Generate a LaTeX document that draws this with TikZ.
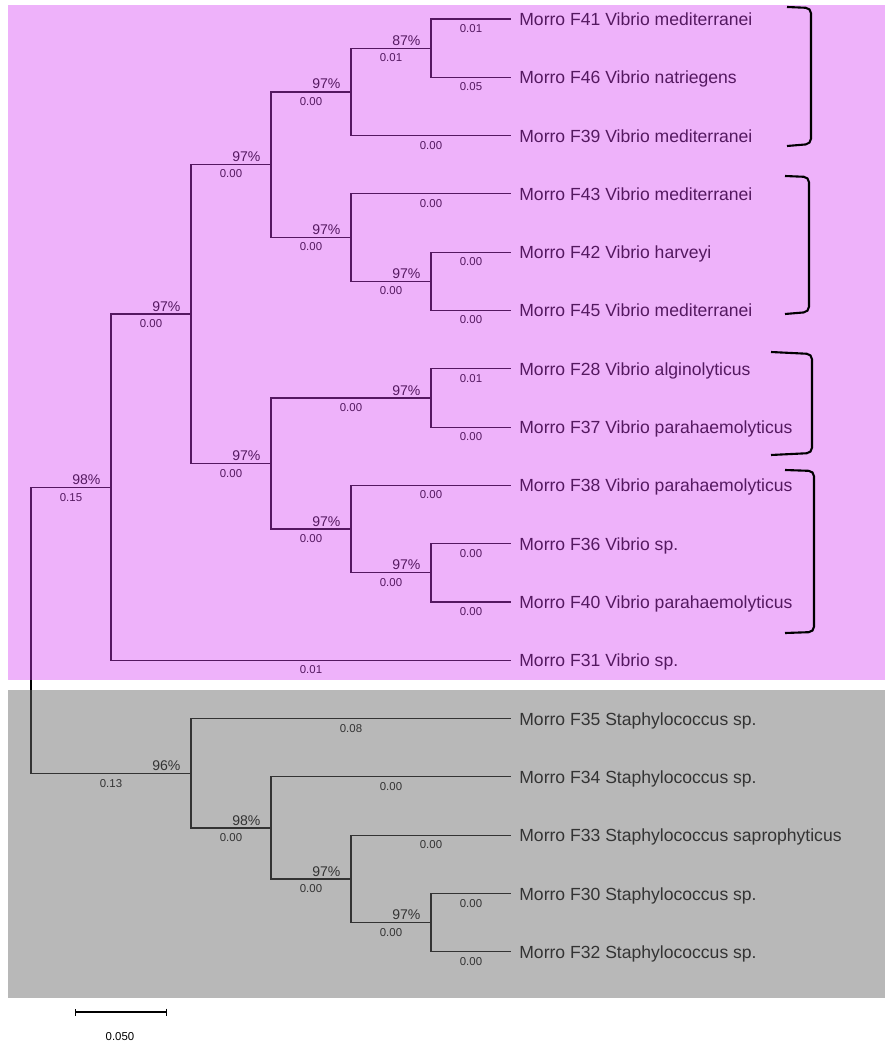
\documentclass[tikz,border=0pt]{standalone}
\usepackage{fontspec}
\setmainfont{Liberation Sans}
\usetikzlibrary{arrows.meta}
\definecolor{vibriopink}{RGB}{212,62,242}
\definecolor{staphgrey}{RGB}{107,107,107}

\begin{document}
\begin{tikzpicture}[x=0.02cm, y=-0.02cm,
  branch/.style={line width=0.6pt},
  leaf/.style={anchor=west, inner xsep=0.16cm, inner ysep=0pt, text height=1.4ex, text depth=0pt, font=\fontsize{10}{12}\selectfont},
  boot/.style={pos=1, anchor=base east, inner sep=0pt, xshift=-0.2cm, yshift=0.06cm, font=\fontsize{8}{9}\selectfont},
  blen/.style={pos=0.75, anchor=north, inner sep=0pt, yshift=-0.1cm, font=\fontsize{6.5}{8}\selectfont},
  brk/.style={line width=1.2pt, rounded corners=3pt}]
\useasboundingbox (0,0) rectangle (885,1043);

\node[leaf] (f41) at (511,19) {Morro F41 Vibrio mediterranei};
\node[leaf] (f46) at (511,77.3) {Morro F46 Vibrio natriegens};
\node[leaf] (f39) at (511,135.6) {Morro F39 Vibrio mediterranei};
\node[leaf] (f43) at (511,193.9) {Morro F43 Vibrio mediterranei};
\node[leaf] (f42) at (511,252.2) {Morro F42 Vibrio harveyi};
\node[leaf] (f45) at (511,310.5) {Morro F45 Vibrio mediterranei};
\node[leaf] (f28) at (511,368.8) {Morro F28 Vibrio alginolyticus};
\node[leaf] (f37) at (511,427.1) {Morro F37 Vibrio parahaemolyticus};
\node[leaf] (f38) at (511,485.4) {Morro F38 Vibrio parahaemolyticus};
\node[leaf] (f36) at (511,543.7) {Morro F36 Vibrio sp.};
\node[leaf] (f40) at (511,602) {Morro F40 Vibrio parahaemolyticus};
\node[leaf] (f31) at (511,660.3) {Morro F31 Vibrio sp.};
\node[leaf] (f35) at (511,718.6) {Morro F35 Staphylococcus sp.};
\node[leaf] (f34) at (511,776.9) {Morro F34 Staphylococcus sp.};
\node[leaf] (f33) at (511,835.2) {Morro F33 Staphylococcus saprophyticus};
\node[leaf] (f30) at (511,893.5) {Morro F30 Staphylococcus sp.};
\node[leaf] (f32) at (511,951.8) {Morro F32 Staphylococcus sp.};

\coordinate (root) at (31,630.5);
\coordinate (vib) at (111,487.5);
\coordinate (a) at (191,314);
\coordinate (b) at (271,164.5);
\coordinate (d) at (351,92);
\coordinate (g) at (431,48.2);
\coordinate (e) at (351,237.5);
\coordinate (h) at (431,281.4);
\coordinate (c) at (271,463.5);
\coordinate (i) at (431,398);
\coordinate (j) at (351,529);
\coordinate (k) at (431,572.9);
\coordinate (staph) at (191,773.5);
\coordinate (t) at (271,828);
\coordinate (u) at (351,879);
\coordinate (w) at (431,922.7);

\draw[branch] (root) |- node[boot] {98\%} node[blen] {0.15} (vib);
\draw[branch] (root) |- node[boot] {96\%} node[blen] {0.13} (staph);

\draw[branch] (vib) |- node[boot] {97\%} node[blen] {0.00} (a);
\draw[branch] (vib) |- node[blen] {0.01} (f31);
\draw[branch] (a) |- node[boot] {97\%} node[blen] {0.00} (b);
\draw[branch] (a) |- node[boot] {97\%} node[blen] {0.00} (c);
\draw[branch] (b) |- node[boot] {97\%} node[blen] {0.00} (d);
\draw[branch] (b) |- node[boot] {97\%} node[blen] {0.00} (e);
\draw[branch] (d) |- node[boot] {87\%} node[blen] {0.01} (g);
\draw[branch] (d) |- node[blen] {0.00} (f39);
\draw[branch] (g) |- node[blen] {0.01} (f41);
\draw[branch] (g) |- node[blen] {0.05} (f46);
\draw[branch] (e) |- node[blen] {0.00} (f43);
\draw[branch] (e) |- node[boot] {97\%} node[blen] {0.00} (h);
\draw[branch] (h) |- node[blen] {0.00} (f42);
\draw[branch] (h) |- node[blen] {0.00} (f45);
\draw[branch] (c) |- node[boot] {97\%} node[blen] {0.00} (i);
\draw[branch] (c) |- node[boot] {97\%} node[blen] {0.00} (j);
\draw[branch] (i) |- node[blen] {0.01} (f28);
\draw[branch] (i) |- node[blen] {0.00} (f37);
\draw[branch] (j) |- node[blen] {0.00} (f38);
\draw[branch] (j) |- node[boot] {97\%} node[blen] {0.00} (k);
\draw[branch] (k) |- node[blen] {0.00} (f36);
\draw[branch] (k) |- node[blen] {0.00} (f40);

\draw[branch] (staph) |- node[blen] {0.08} (f35);
\draw[branch] (staph) |- node[boot] {98\%} node[blen] {0.00} (t);
\draw[branch] (t) |- node[blen] {0.00} (f34);
\draw[branch] (t) |- node[boot] {97\%} node[blen] {0.00} (u);
\draw[branch] (u) |- node[blen] {0.00} (f33);
\draw[branch] (u) |- node[boot] {97\%} node[blen] {0.00} (w);
\draw[branch] (w) |- node[blen] {0.00} (f30);
\draw[branch] (w) |- node[blen] {0.00} (f32);

\fill[vibriopink, fill opacity=0.4] (8,5) rectangle (885,680);
\fill[staphgrey, fill opacity=0.48] (8,690) rectangle (885,998);

\draw[brk] (787,7) -- (811,8) -- (811,144) -- (787,146);
\draw[brk] (785,176) -- (809,177) -- (809,312) -- (785,314);
\draw[brk] (771,352) -- (812,354) -- (812,453) -- (771,455);
\draw[brk] (785,470) -- (814,471) -- (814,632) -- (785,633);

\coordinate (sbl) at (75,1012);
\coordinate (sbr) at (167,1012);
\draw[line width=0.6pt, {Bar[width=0.14cm]}-{Bar[width=0.14cm]}] (sbl) -- (sbr);
\node[font=\fontsize{6.5}{8}\selectfont, inner sep=0pt] (sbval) at (120,1037) {0.050};
\end{tikzpicture}
\end{document}
